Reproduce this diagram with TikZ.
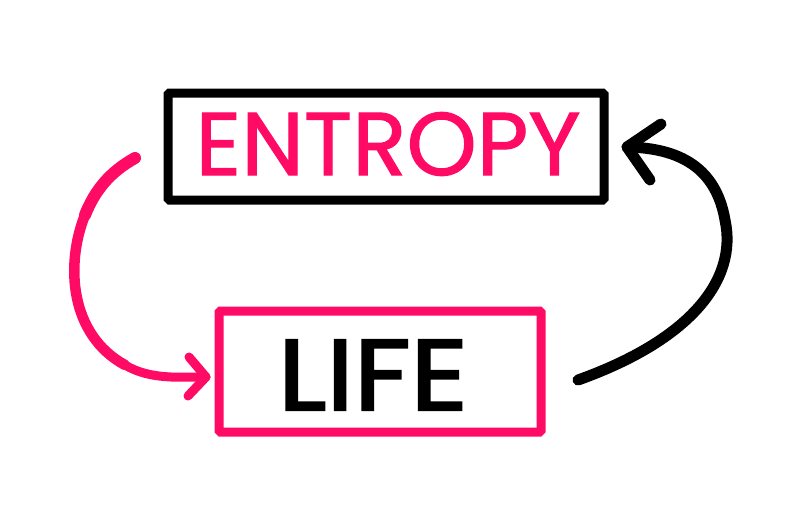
\documentclass[tikz,border=0pt]{standalone}
\usepackage{fontspec}
\newfontfamily\handfont[FakeBold=1.2]{Poppins}
\newfontfamily\handfontb[FakeBold=2.2]{Poppins}
\definecolor{hotpink}{HTML}{FF0A64}
\tikzset{
  boxstyle/.style={draw, line width=9pt, rounded corners=1.5pt, inner sep=0pt},
  pinkline/.style={draw=hotpink, line width=9pt, line cap=round, line join=round},
  blackline/.style={draw=black, line width=11pt, line cap=round, line join=round},
}
\begin{document}
\begin{tikzpicture}[x=1pt,y=-1pt]
\useasboundingbox[fill=white] (0,0) rectangle (800,512);
% boxes
\node[boxstyle, draw=black, minimum width=436pt, minimum height=107pt] (entropy) at (386,146.5) {};
\node[boxstyle, draw=hotpink, minimum width=322pt, minimum height=121pt] (life) at (380,371.5) {};
% texts
\node[text=hotpink, inner sep=0pt] (entropytext) at (388,144) {\resizebox{385pt}{63pt}{\handfont ENTROPY}};
\node[text=black, inner sep=0pt] (lifetext) at (373,375) {\resizebox{190pt}{70pt}{\handfontb LIFE}};
% pink arrow (entropy -> life)
\coordinate (p0) at (135,158);
\coordinate (p1) at (125,365);
\coordinate (p2) at (206,377);
\coordinate (pa) at (189,357);
\coordinate (pb) at (188,396);
\draw[pinkline, line width=12pt] (p0) .. controls (110,172) and (95,190) .. (85,215);
\draw[pinkline, line width=10.5pt] (85,215) .. controls (65,265) and (70,335) .. (p1);
\draw[pinkline] (p1) .. controls (150,380) and (180,377) .. (p2);
\draw[pinkline] (pa) -- (p2) -- (pb);
% black arrow (life -> entropy)
\coordinate (b0) at (578,380);
\coordinate (b1) at (725,220);
\coordinate (b2) at (627,147);
\coordinate (ba) at (661,124);
\coordinate (bb) at (650,180);
\draw[blackline] (b0) .. controls (690,340) and (738,280) .. (b1) .. controls (716,168) and (680,148) .. (b2);
\draw[blackline] (ba) -- (b2) -- (bb);
\end{tikzpicture}
\end{document}
